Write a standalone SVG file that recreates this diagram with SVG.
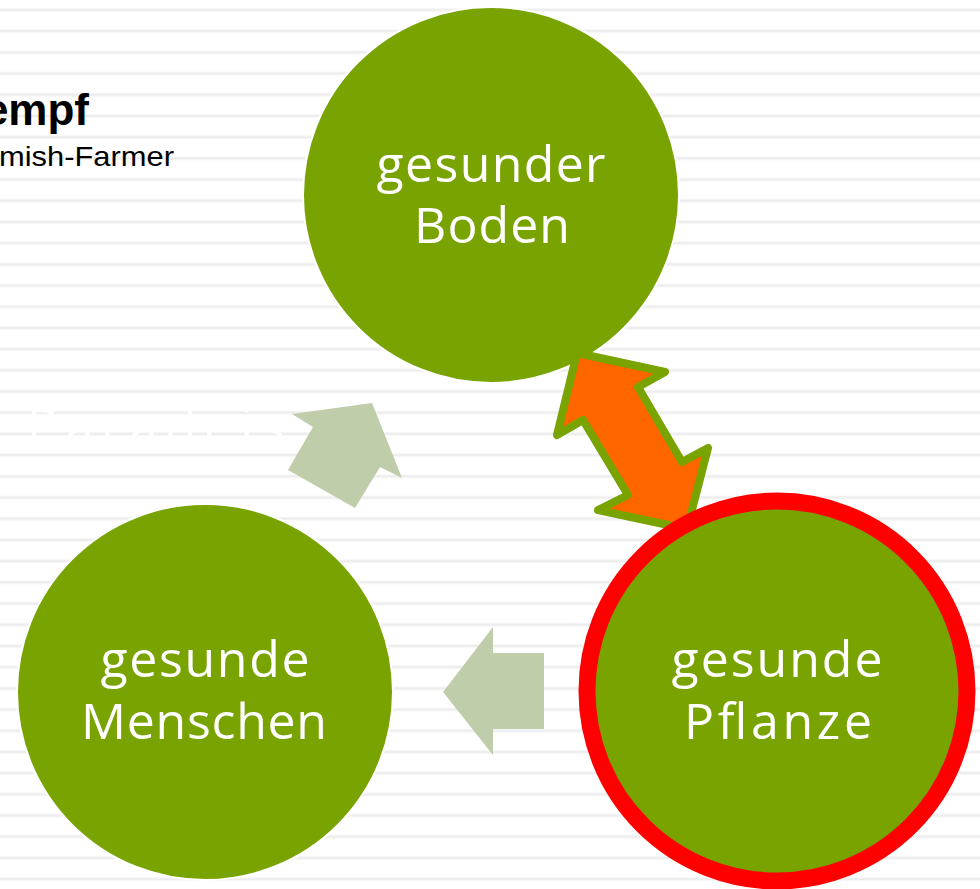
<svg xmlns="http://www.w3.org/2000/svg" width="980" height="889" viewBox="0 0 980 889">
  <defs>
    <pattern id="stripes" patternUnits="userSpaceOnUse" x="0" y="8" width="980" height="21.2">
      <rect x="0" y="0" width="980" height="1" fill="#f6f6f6"/>
      <rect x="0" y="1" width="980" height="2" fill="#ededed"/>
      <rect x="0" y="3" width="980" height="1" fill="#f6f6f6"/>
    </pattern>
    <style>
      .node { fill: #78a300; stroke: #ffffff; stroke-width: 2; }
      .hl { fill: #78a300; stroke: #ff0000; stroke-width: 17; }
      .lbl { font-family: "Open Sans", "Lato", sans-serif; font-size: 50px; fill: #ffffff; text-anchor: middle; }
      .flow { fill: #bfcdaa; stroke: none; }
      .dbl { fill: #ff6600; stroke: #78a300; stroke-width: 8; stroke-linejoin: round; }
    </style>
  </defs>
  <rect x="0" y="0" width="980" height="889" fill="#ffffff"/>
  <rect x="0" y="0" width="980" height="889" fill="url(#stripes)"/>

  <g id="title">
    <text x="89" y="125" font-family="Liberation Sans, Arial, sans-serif" font-size="44" font-weight="bold" text-anchor="end" fill="#000000">empf</text>
    <text x="-1" y="166" font-family="Liberation Sans, Arial, sans-serif" font-size="28" fill="#000000" textLength="175" lengthAdjust="spacingAndGlyphs">mish-Farmer</text>
  </g>

  <text id="hidden-label" class="lbl" x="156" y="445" style="font-size:51px" textLength="258" lengthAdjust="spacing">Paradeis</text>

  <g id="node-boden">
    <circle class="node" cx="491" cy="195" r="188"/>
    <text class="lbl" x="491" y="182" textLength="229" lengthAdjust="spacing">gesunder</text>
    <text class="lbl" x="492" y="243" textLength="156" lengthAdjust="spacing">Boden</text>
  </g>

  <g id="node-menschen">
    <circle class="node" cx="205" cy="692" r="188"/>
    <text class="lbl" x="205" y="677" textLength="209" lengthAdjust="spacing">gesunde</text>
    <text class="lbl" x="204" y="739" textLength="246" lengthAdjust="spacing">Menschen</text>
  </g>

  <g id="connectors">
    <polygon id="arrow-menschen-boden" class="flow" points="292,414 372,403 402,478 380,467 355,508 288,470 313,427"/>
    <polygon id="arrow-pflanze-menschen" class="flow" points="443,692 493,627 493,653 544,653 544,729 493,729 493,755"/>
    <polygon id="arrow-boden-pflanze" class="dbl" points="577,353 665,372 638,387 682,462 708,448 687,529 598,510 628,495 583,420 557,435"/>
  </g>

  <g id="node-pflanze">
    <circle class="hl" cx="777" cy="691" r="190"/>
    <text class="lbl" x="777" y="677" textLength="211" lengthAdjust="spacing">gesunde</text>
    <text class="lbl" x="778" y="739" textLength="188" lengthAdjust="spacing">Pflanze</text>
  </g>
</svg>
